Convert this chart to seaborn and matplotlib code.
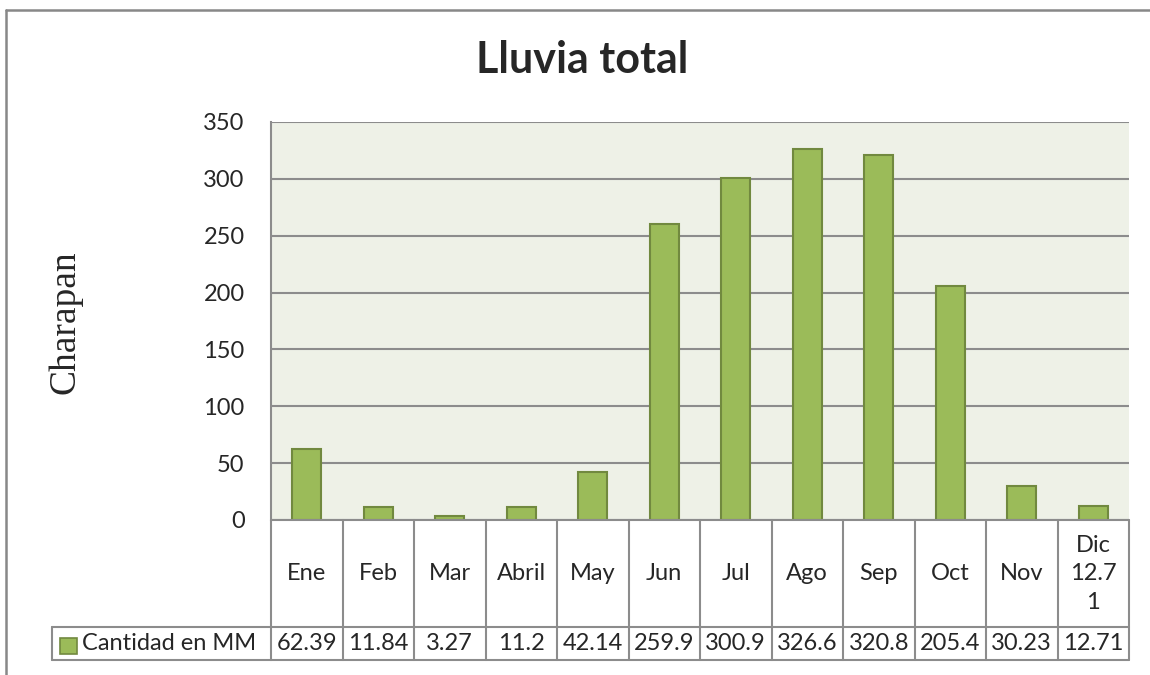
import matplotlib
matplotlib.use("Agg")
import matplotlib.pyplot as plt
import seaborn as sns
import pandas as pd
from matplotlib.lines import Line2D
from matplotlib.patches import Rectangle
from matplotlib.transforms import blended_transform_factory

# === data ===
months = ["Ene", "Feb", "Mar", "Abril", "May", "Jun",
          "Jul", "Ago", "Sep", "Oct", "Nov", "Dic"]
header_labels = ["Ene", "Feb", "Mar", "Abril", "May", "Jun",
                 "Jul", "Ago", "Sep", "Oct", "Nov", "Dic\n12.7\n1"]
rain_mm = [62.39, 11.84, 3.27, 11.2, 42.14, 259.9,
           300.9, 326.6, 320.8, 205.4, 30.23, 12.71]
series_name = "Cantidad en MM"
y_ticks = [0, 50, 100, 150, 200, 250, 300, 350]

df = pd.DataFrame({"mes": months, "lluvia": rain_mm})

sns.set_style("white")
plt.rcParams["font.family"] = ["Lato", "DejaVu Sans"]

W, H = 1150, 675
fig = plt.figure(figsize=(W / 100, H / 100), dpi=100)


def fx(px):
    return px / W


def fy(py):
    return 1 - py / H


# plot area in pixels: x 271..1129, y 122..520
ax = fig.add_axes([fx(271), fy(520), fx(1129) - fx(271), fy(122) - fy(520)])
ax.set_facecolor("#EEF1E7")

bar_face = "#9BBB59"
bar_edge = "#71893F"
line_col = "#8C8C8C"
fs = 17

sns.barplot(data=df, x="mes", y="lluvia", ax=ax, color=bar_face,
            saturation=1, width=0.41, edgecolor=bar_edge, linewidth=1.5,
            zorder=3)

ax.set_xlim(-0.5, len(months) - 0.5)
ax.set_ylim(0, 350)
ax.set_yticks(y_ticks)
ax.set_yticklabels([str(t) for t in y_ticks], fontsize=fs)
ax.tick_params(axis="y", length=0, pad=19)
ax.set_xticks([])
ax.set_xlabel("")
ax.set_ylabel("")
ax.yaxis.grid(True, color=line_col, linewidth=1.5, zorder=0)
ax.set_axisbelow(True)
for side in ["top", "right", "bottom"]:
    ax.spines[side].set_visible(False)
ax.spines["left"].set_color(line_col)
ax.spines["left"].set_linewidth(1.5)

# title and y label
fig.text(fx(582), fy(60), "Lluvia total", fontsize=31, fontweight="bold",
         ha="center", va="center")
fig.text(fx(65), fy(322), "Charapan", fontsize=27, rotation=90,
         ha="center", va="center", family=["Liberation Serif", "DejaVu Serif"])

# data table under the axis
tr = blended_transform_factory(ax.transData, fig.transFigure)
row_top, row_mid, row_bot = 520, 627, 660
n = len(months)


def hline(x0, x1, y, transform):
    fig.add_artist(Line2D([x0, x1], [fy(y), fy(y)], transform=transform,
                          color=line_col, linewidth=1.5))


def vline(x, y0, y1, transform):
    fig.add_artist(Line2D([x, x], [fy(y0), fy(y1)], transform=transform,
                          color=line_col, linewidth=1.5))


hline(-0.5, n - 0.5, row_top, tr)
hline(-0.5, n - 0.5, row_mid, tr)
hline(-0.5, n - 0.5, row_bot, tr)
for i in range(n + 1):
    vline(i - 0.5, row_top, row_bot, tr)

# legend cell
hline(fx(52), fx(271), row_mid, fig.transFigure)
hline(fx(52), fx(271), row_bot, fig.transFigure)
vline(fx(52), row_mid, row_bot, fig.transFigure)
fig.add_artist(Rectangle((fx(60), fy(654)), fx(77) - fx(60), fy(638) - fy(654),
                         transform=fig.transFigure, facecolor=bar_face,
                         edgecolor=bar_edge, linewidth=1.2))
fig.text(fx(82), fy(644), series_name, fontsize=fs, ha="left", va="center")

for i, (lab, val) in enumerate(zip(header_labels, rain_mm)):
    fig.text(i, fy(574), lab, transform=tr, fontsize=fs, ha="center",
             va="center", linespacing=1.45)
    fig.text(i, fy(644), f"{val:g}", transform=tr, fontsize=fs,
             ha="center", va="center")

# outer chart frame
fig.add_artist(Line2D([fx(6), fx(6)], [fy(10), 0], transform=fig.transFigure,
                      color="#888888", linewidth=1.8))
fig.add_artist(Line2D([fx(6), 1], [fy(10), fy(10)], transform=fig.transFigure,
                      color="#888888", linewidth=1.8))

plt.savefig("out.png", dpi=100, facecolor="white")
